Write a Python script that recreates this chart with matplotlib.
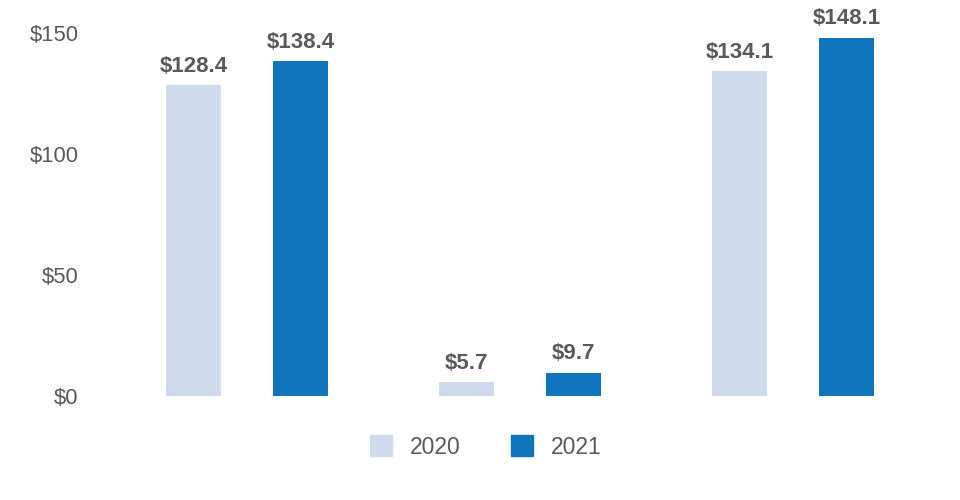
import matplotlib.pyplot as plt
import numpy as np
from matplotlib.patches import Patch

plt.rcParams['font.family'] = ['Liberation Sans', 'DejaVu Sans']

# --- data ---
categories = ['A', 'B', 'C']
years = ['2020', '2021']
values_2020 = [128.4, 5.7, 134.1]
values_2021 = [138.4, 9.7, 148.1]
y_ticks = [0, 50, 100, 150]

colors = {'2020': '#CFDAEC', '2021': '#1075BC'}
text_color = '#595959'

fig = plt.figure(figsize=(9.6, 5.0), dpi=100)
ax = fig.add_axes([110.5 / 960, 104 / 500, 819 / 960, 363 / 500])

x = np.arange(len(categories))
w = 0.198
off = 0.196

for vals, year, sign in [(values_2020, '2020', -1), (values_2021, '2021', 1)]:
    bars = ax.bar(x + sign * off, vals, width=w, color=colors[year])
    for b, v in zip(bars, vals):
        ax.text(b.get_x() + b.get_width() / 2, v + 3.4, f'${v:.1f}',
                ha='center', va='bottom', fontsize=16, fontweight='bold',
                color=text_color, clip_on=False)

ax.set_xlim(-0.5, 2.5)
ax.set_ylim(0, 150)
ax.set_yticks(y_ticks)
ax.set_yticklabels([f'${t}' for t in y_ticks])
ax.set_xticks([])
ax.tick_params(axis='y', length=0, labelsize=15.8, labelcolor=text_color, pad=23)
for s in ax.spines.values():
    s.set_visible(False)

handles = [Patch(color=colors[y], label=y) for y in years]
fig.legend(handles=handles, loc='center', bbox_to_anchor=(486 / 960, 1 - 447 / 500),
           ncol=2, frameon=False, fontsize=16.5, labelcolor=text_color,
           handlelength=0.95, handleheight=1.0, columnspacing=2.2, handletextpad=0.8)

fig.savefig('out.png', dpi=100)
